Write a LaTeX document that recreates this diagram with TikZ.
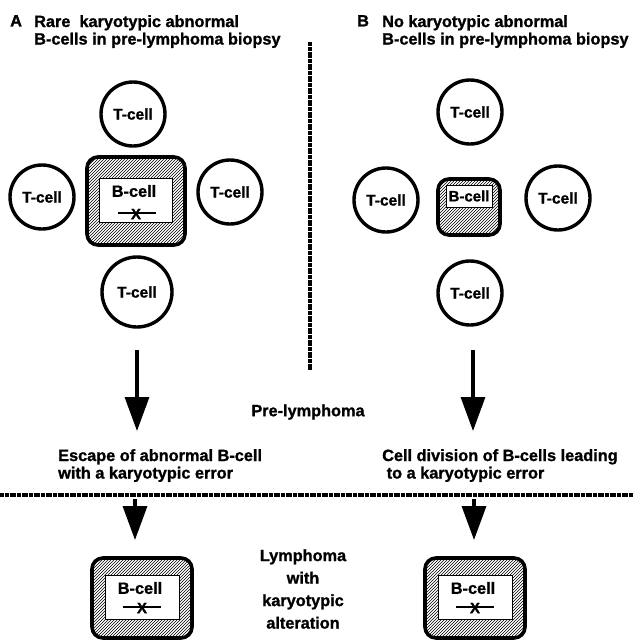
\documentclass[tikz,border=0pt]{standalone}
\usepackage{fontspec}
\setmainfont{Liberation Sans}[BoldFeatures={FakeBold=1.2}]
\usetikzlibrary{arrows.meta, positioning, patterns}

\tikzset{
  tcell/.style={circle, draw, line width=3.4pt, minimum size=64pt, inner sep=0pt,
    font=\bfseries\fontsize{15.5}{17}\selectfont},
  hatchbox/.style={rectangle, draw, line width=3.6pt, rounded corners=11pt,
    pattern=north east lines, inner sep=0pt},
  whitebox/.style={rectangle, draw, fill=white, line width=1pt, inner sep=0pt},
  lbl/.style={font=\bfseries\fontsize{16.3}{17.5}\selectfont, align=left, inner sep=0pt},
  bigarrow/.style={line width=3.4pt, -{Triangle[width=24pt, length=34pt]}},
  divider/.style={line width=4pt, dash pattern=on 2pt off 0.4pt},
  chrom/.style={line width=2.8pt},
}

\begin{document}
\begin{tikzpicture}[x=1pt, y=-1pt]
  \useasboundingbox (0,0) rectangle (634,641);

  % headings
  \node[lbl, anchor=north west] (hA) at (10,15) {A};
  \node[lbl, anchor=north west] (tA) at (34,15) {Rare\ \ karyotypic abnormal\\B-cells in pre-lymphoma biopsy};
  \node[lbl, anchor=north west] (hB) at (357,15) {B};
  \node[lbl, anchor=north west] (tB) at (382,15) {No karyotypic abnormal\\B-cells in pre-lymphoma biopsy};

  % dividers
  \coordinate (vtop) at (310,42);
  \coordinate (vbot) at (310,370);
  \draw[divider] (vtop) -- (vbot);
  \coordinate (hl) at (0,495);
  \coordinate (hr) at (634,495);
  \draw[divider] (hl) -- (hr);

  % panel A: abnormal B-cell among T-cells
  \node[hatchbox, minimum width=98pt, minimum height=88pt] (bA) at (136,201) {};
  \node[whitebox, minimum width=73pt, minimum height=44pt] (bAin) at (136,200) {};
  \node[lbl] (bAtxt) at (134,191) {B-cell};
  \coordinate (cAl) at (118,213);
  \coordinate (cAr) at (156,213);
  \draw[chrom] (cAl) -- (cAr);
  \node[font=\bfseries\fontsize{15}{15}\selectfont, inner sep=0pt] (xA) at (136,214) {X};

  \node[tcell] (tcA1) at (133,114) {T-cell};
  \node[tcell] (tcA2) at (42,197) {T-cell};
  \node[tcell] (tcA3) at (230,192) {T-cell};
  \node[tcell, minimum size=70pt] (tcA4) at (137,292) {T-cell};

  % panel B: normal B-cell among T-cells
  \node[hatchbox, minimum width=62pt, minimum height=56pt] (bB) at (469,207) {};
  \node[whitebox, minimum width=46pt, minimum height=22pt] (bBin) at (469,196) {};
  \node[lbl, font=\bfseries\fontsize{15}{16}\selectfont] (bBtxt) at (469,196) {B-cell};

  \node[tcell] (tcB1) at (470,112) {T-cell};
  \node[tcell] (tcB2) at (386,200) {T-cell};
  \node[tcell] (tcB3) at (558,198) {T-cell};
  \node[tcell] (tcB4) at (470,293) {T-cell};

  % transition
  \coordinate (aAs) at (137,350);
  \coordinate (aAe) at (137,431);
  \draw[bigarrow] (aAs) -- (aAe);
  \coordinate (aBs) at (473,350);
  \coordinate (aBe) at (473,431);
  \draw[bigarrow] (aBs) -- (aBe);
  \node[lbl] (pre) at (308,412) {Pre-lymphoma};

  \node[lbl, anchor=north west] (escA) at (58,449) {Escape of abnormal B-cell\\with a karyotypic error};
  \node[lbl, anchor=north west] (divB) at (382,449) {Cell division of B-cells leading\\\ to a karyotypic error};

  % lymphoma
  \coordinate (lAs) at (135,499);
  \coordinate (lAe) at (135,540);
  \draw[bigarrow] (lAs) -- (lAe);
  \coordinate (lBs) at (474,499);
  \coordinate (lBe) at (474,540);
  \draw[bigarrow] (lBs) -- (lBe);

  \node[hatchbox, minimum width=100pt, minimum height=80pt] (lA) at (142,598) {};
  \node[whitebox, minimum width=74pt, minimum height=44pt] (lAin) at (142,597) {};
  \node[lbl] (lAtxt) at (140,588) {B-cell};
  \coordinate (cLAl) at (123,607);
  \coordinate (cLAr) at (161,607);
  \draw[chrom] (cLAl) -- (cLAr);
  \node[font=\bfseries\fontsize{15}{15}\selectfont, inner sep=0pt] (xLA) at (142,608) {X};

  \node[hatchbox, minimum width=100pt, minimum height=80pt] (lB) at (475,598) {};
  \node[whitebox, minimum width=74pt, minimum height=44pt] (lBin) at (475,597) {};
  \node[lbl] (lBtxt) at (473,588) {B-cell};
  \coordinate (cLBl) at (456,607);
  \coordinate (cLBr) at (494,607);
  \draw[chrom] (cLBl) -- (cLBr);
  \node[font=\bfseries\fontsize{15}{15}\selectfont, inner sep=0pt] (xLB) at (475,608) {X};

  \node[lbl, align=center, font=\bfseries\fontsize{16.3}{22.5}\selectfont] (lym) at (303,589) {Lymphoma\\with\\karyotypic\\alteration};
\end{tikzpicture}
\end{document}
